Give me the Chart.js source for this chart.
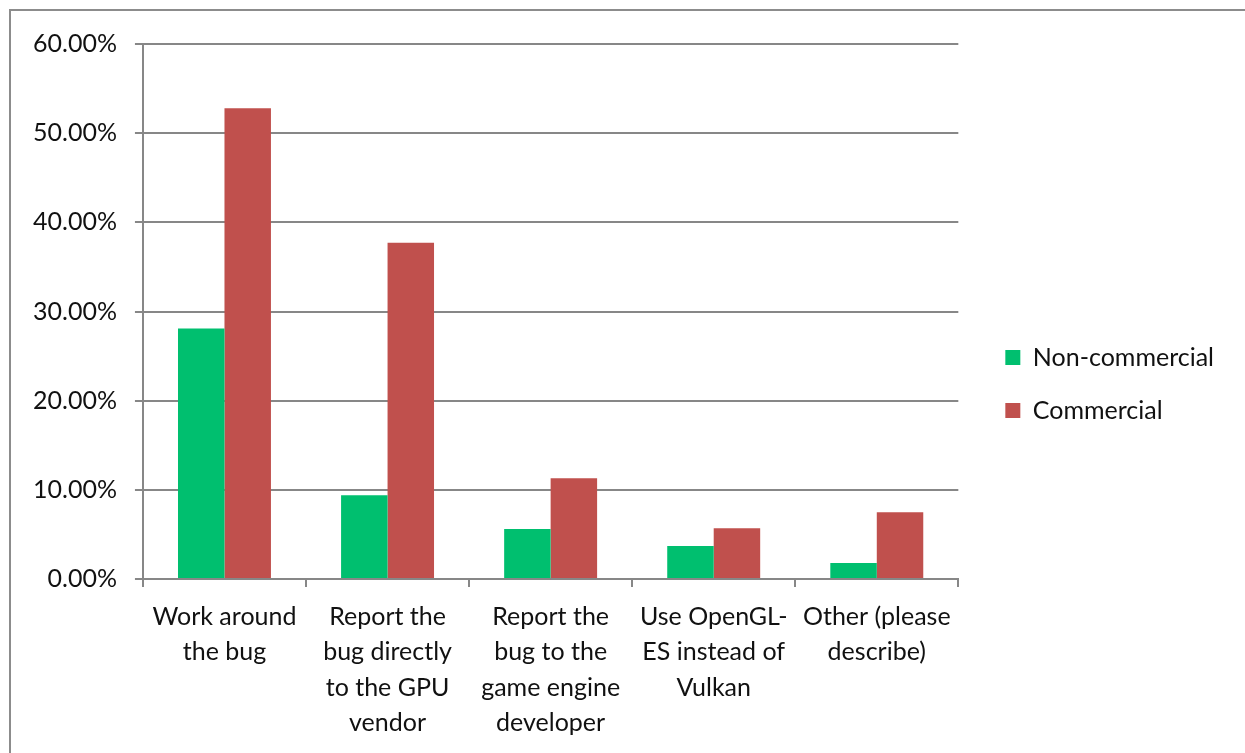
<!DOCTYPE html>
<html>
<head>
<meta charset="utf-8">
<script src="https://cdn.jsdelivr.net/npm/chart.js@4"></script>
<style>
  html, body { margin: 0; padding: 0; background: #fff; overflow: hidden; }
  #frame {
    position: absolute; left: 9px; top: 9px;
    width: 1236px; height: 744px;
    border-top: 2px solid #8c8c8c; border-left: 2px solid #8c8c8c;
  }
  #frame canvas { display: block; }
</style>
</head>
<body>
<div id="frame"><canvas id="my-chart" width="1234" height="742"></canvas></div>
<script>
const categories = [
  ['Work around', 'the bug'],
  ['Report the', 'bug directly', 'to the GPU', 'vendor'],
  ['Report the', 'bug to the', 'game engine', 'developer'],
  ['Use OpenGL-', 'ES instead of', 'Vulkan'],
  ['Other (please', 'describe)'],
];
const nonCommercial = [28.1, 9.4, 5.6, 3.7, 1.8];
const commercial = [52.8, 37.7, 11.3, 5.7, 7.5];

const axisGrey = '#878787';
const textColor = '#111111';
const font = { family: 'Lato', size: 25 };

// push the legend a little away from the plot, Excel style
const legendOffset = {
  id: 'legendOffset',
  afterLayout(chart) {
    const lg = chart.legend;
    lg.left += 19;
    lg.right += 19;
    lg.top -= 14;
    lg.bottom -= 14;
  },
};

const ctx = document.getElementById('my-chart').getContext('2d');

new Chart(ctx, {
  type: 'bar',
  data: {
    labels: categories,
    datasets: [
      {
        label: 'Non-commercial',
        data: nonCommercial,
        backgroundColor: '#00bf6f',
      },
      {
        label: 'Commercial',
        data: commercial,
        backgroundColor: '#c0504d',
      },
    ],
  },
  plugins: [legendOffset],
  options: {
    responsive: false,
    animation: false,
    layout: { padding: { left: 4, top: 32, right: 40, bottom: 0 } },
    datasets: {
      bar: { barPercentage: 1, categoryPercentage: 0.57 },
    },
    plugins: {
      tooltip: { enabled: false },
      legend: {
        position: 'right',
        labels: {
          font: font,
          color: textColor,
          boxWidth: 15,
          boxHeight: 15,
          padding: 28,
        },
      },
    },
    scales: {
      x: {
        grid: {
          offset: true,
          drawOnChartArea: false,
          color: axisGrey,
          lineWidth: 2,
          tickLength: 8,
        },
        border: { color: axisGrey, width: 2 },
        ticks: {
          font: { ...font, lineHeight: 1.42 },
          color: textColor,
          maxRotation: 0,
          autoSkip: false,
          padding: 12,
        },
      },
      y: {
        min: 0,
        max: 60,
        grid: { color: axisGrey, lineWidth: 2, tickLength: 8 },
        border: { color: axisGrey, width: 2 },
        ticks: {
          stepSize: 10,
          font: font,
          color: textColor,
          padding: 18,
          callback: (v) => v.toFixed(2) + '%',
        },
      },
    },
  },
});
</script>
</body>
</html>
